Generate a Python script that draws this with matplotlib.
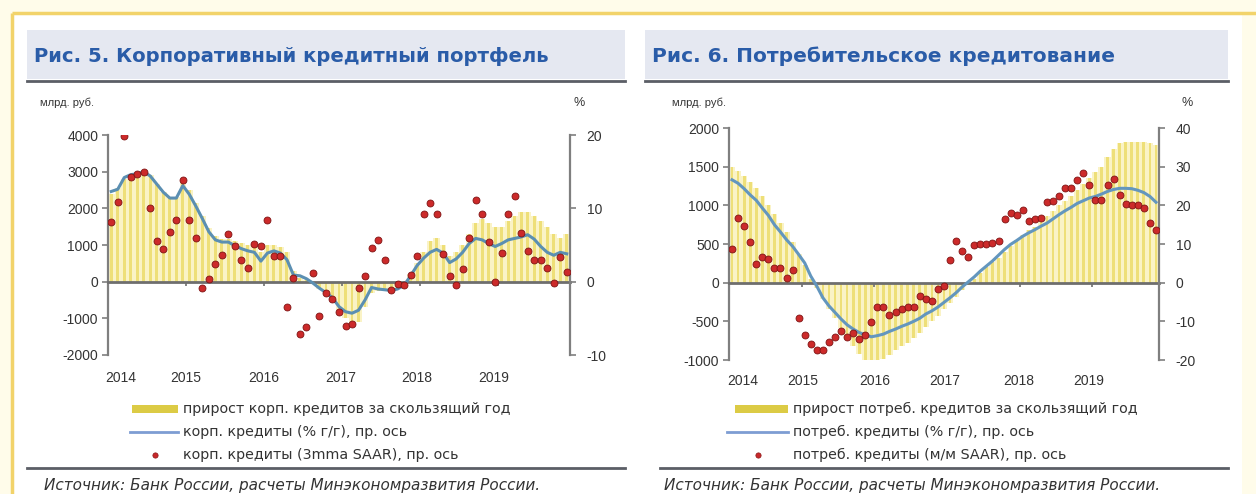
import matplotlib
matplotlib.use("Agg")
import matplotlib.pyplot as plt
import matplotlib.transforms as mtransforms
from matplotlib.patches import Rectangle
import numpy as np

plt.rcParams['font.family'] = ['Liberation Sans', 'DejaVu Sans']
WIDE = ['DejaVu Sans', 'Liberation Sans']

# ---------------- data (monthly, Jan 2014 - Nov 2019) ----------------
years = ['2014', '2015', '2016', '2017', '2018', '2019']

# Fig. 5: corporate loans
corp_growth_bn = [2400, 2550, 2800, 2900, 2950, 3000, 2900, 2650, 2450, 2300,
                  2300, 2800, 2500, 2150, 1800, 1450, 1250, 1150, 1150, 1100,
                  1050, 1000, 950, 800, 1000, 1000, 950, 800, 300, 100,
                  50, -50, -200, -350, -500, -800, -1000, -1150, -1100, -700,
                  -300, -250, -250, -250, -200, -100, 200, 500, 800, 1100,
                  1200, 1000, 700, 800, 1000, 1300, 1600, 1700, 1600, 1500,
                  1500, 1650, 1800, 1900, 1900, 1800, 1650, 1500, 1300, 1200, 1300]
corp_yoy = [12.3, 12.6, 14.2, 14.6, 14.7, 15.0, 14.4, 13.3, 12.2, 11.4,
            11.4, 13.1, 11.9, 10.3, 8.6, 6.8, 5.7, 5.4, 5.4, 4.9,
            4.5, 4.2, 4.0, 2.8, 3.9, 4.2, 3.9, 3.0, 0.9, 0.8,
            0.4, -0.2, -0.9, -1.5, -2.2, -3.4, -4.1, -4.3, -3.9, -2.5,
            -0.8, -1.0, -1.1, -1.2, -1.0, -0.5, 0.8, 2.2, 3.2, 4.0,
            4.4, 3.9, 2.6, 3.1, 4.0, 5.2, 5.9, 5.7, 5.2, 4.8,
            5.2, 5.7, 5.9, 6.1, 6.4, 5.8, 4.8, 4.0, 3.6, 4.0, 3.8]
corp_saar = [8.2, 10.8, 19.9, 14.3, 14.7, 15.0, 10.0, 5.6, 4.5, 6.8,
             8.4, 13.8, 8.4, 6.0, -0.8, 0.4, 2.4, 3.7, 6.5, 4.8,
             2.9, 1.8, 5.2, 4.9, 8.4, 3.5, 3.5, -3.4, 0.5, -7.1,
             -6.2, 1.25, -4.7, -1.6, -2.4, -4.1, -6.0, -5.8, -0.9, 0.8,
             4.6, 5.7, 2.9, -1.2, -0.3, -0.5, 0.9, 3.5, 9.2, 10.7,
             9.2, 3.8, 0.8, -0.4, 1.7, 5.9, 11.2, 9.2, 5.4, -0.1,
             3.9, 9.2, 11.7, 6.6, 4.2, 2.9, 2.9, 1.9, -0.2, 3.3, 1.3]

# Fig. 6: consumer loans
cons_growth_bn = [1500, 1450, 1375, 1300, 1225, 1115, 1000, 890, 775, 650,
                  525, 375, 225, 50, -75, -215, -340, -460, -590, -710,
                  -825, -925, -1000, -1030, -1020, -985, -940, -875, -825, -775,
                  -710, -650, -575, -500, -430, -340, -260, -180, -100, -30,
                  45, 125, 200, 265, 320, 400, 480, 550, 615, 675,
                  725, 790, 860, 925, 1000, 1050, 1125, 1200, 1275, 1350,
                  1425, 1500, 1625, 1725, 1800, 1815, 1820, 1820, 1820, 1800, 1780]
cons_yoy = [26.6, 25.7, 24.3, 22.7, 21.3, 19.3, 17.4, 15.0, 13.1, 11.1,
            9.4, 7.3, 5.1, 1.7, -0.9, -3.9, -6.0, -7.7, -9.4, -10.9,
            -12.0, -12.9, -13.5, -14.0, -13.7, -13.3, -12.6, -12.0, -11.3, -10.7,
            -10.0, -9.2, -8.1, -7.3, -6.3, -5.1, -3.9, -2.6, -1.1, 0.2,
            1.5, 3.0, 4.3, 5.6, 7.1, 8.6, 9.9, 10.9, 12.0, 12.9,
            13.7, 14.6, 15.4, 16.5, 17.6, 18.6, 19.5, 20.5, 21.2, 21.9,
            22.3, 22.9, 23.6, 24.1, 24.4, 24.4, 24.3, 23.9, 23.3, 22.3, 20.8]
cons_saar = [8.6, 16.7, 14.6, 10.5, 4.9, 6.6, 6.0, 3.9, 3.9, 1.1,
             3.3, -9.2, -13.5, -15.9, -17.4, -17.4, -15.4, -14.1, -12.6, -14.1,
             -12.9, -14.6, -13.5, -10.3, -6.3, -6.4, -8.3, -7.7, -6.9, -6.4,
             -6.3, -3.4, -4.3, -4.7, -1.7, -0.9, 5.8, 10.9, 8.1, 6.6,
             9.7, 10.0, 10.0, 10.2, 10.7, 16.5, 18.0, 17.6, 18.9, 15.9,
             16.5, 16.7, 20.8, 21.2, 22.3, 24.6, 24.4, 26.6, 28.3, 25.3,
             21.4, 21.4, 25.3, 26.8, 22.7, 20.3, 20.1, 20.1, 19.3, 15.4, 13.7]

# ---------------- figure in pixel units ----------------
W, H = 1256, 494
fig = plt.figure(figsize=(W / 100, H / 100), dpi=100)
fig.patch.set_facecolor('#FFFCEA')

bg = fig.add_axes([0, 0, 1, 1], zorder=0)
bg.set_xlim(0, W)
bg.set_ylim(H, 0)
bg.axis('off')

FRAME = '#F2D36A'
bg.add_patch(Rectangle((12, 13), 1230, H, fc='white', ec='none'))
bg.plot([12, W], [13, 13], color=FRAME, lw=2.5, solid_capstyle='butt')
bg.plot([12, 12], [13, H], color=FRAME, lw=2.5, solid_capstyle='butt')

TITLE_BG = '#E5E8F1'
TITLE_FG = '#2A5CA8'
RULE = '#5B5E66'
TXT = '#333333'
SOURCE = 'Источник: Банк России, расчеты Минэкономразвития России.'


def px_rect(x0, y0, x1, y1):
    return [x0 / W, 1 - y1 / H, (x1 - x0) / W, (y1 - y0) / H]


def panel_frame(x0, x1, title, title_size, rule_x0, source_x):
    bg.add_patch(Rectangle((x0, 30), x1 - x0, 49, fc=TITLE_BG, ec='none'))
    bg.plot([x0, x1], [81, 81], color=RULE, lw=2)
    bg.text(x0 + 7, 56, title, fontsize=title_size, fontweight='bold',
            family=WIDE, color=TITLE_FG, va='center', ha='left')
    bg.plot([rule_x0, x1], [468, 468], color=RULE, lw=2)
    bg.text(source_x, 485, SOURCE, fontsize=11, style='italic', family=WIDE,
            color=TXT, va='center')


def legend(xp, x_line0, xt, labels):
    bg.add_patch(Rectangle((xp, 405), xt - 5 - xp, 8, fc='#DCCB45', ec='none'))
    bg.plot([x_line0, xt - 5], [432, 432], color='#7D9DD3', lw=2)
    bg.plot([(x_line0 + xt) / 2 - 2], [455], 'o', ms=3.8,
            mfc='#C8282A', mec='#8A1818', mew=0.5)
    for y, s in zip([409, 432, 455], labels):
        bg.text(xt, y, s, fontsize=10.3, family=WIDE, color=TXT,
                va='center', ha='left')


def chart(rect, bars, yoy, saar, ylim_l, yt_l, ylim_r, yt_r,
          year_pos, year_y, line_color):
    ax = fig.add_axes(rect, zorder=1)
    ax.patch.set_visible(False)
    x = np.arange(len(bars))
    ax.bar(x, bars, width=1.0, color='#FAF3C6', lw=0, zorder=1)
    ax.bar(x, bars, width=0.45, color='#EEDF78', lw=0, zorder=2)
    ax.set_xlim(-0.5, len(bars) - 0.5)
    ax.set_ylim(*ylim_l)
    ax.set_yticks(yt_l)
    ax.set_yticklabels([f'{v:.0f}' for v in yt_l])
    ax.set_xticks([11.5 + 12 * k for k in range(5)])
    ax.set_xticklabels([])
    for s in ('top', 'right'):
        ax.spines[s].set_visible(False)
    ax.spines['left'].set_color('#7F7F7F')
    ax.spines['left'].set_linewidth(1.6)
    ax.spines['bottom'].set_position(('data', 0))
    ax.spines['bottom'].set_color('#6E6E6E')
    ax.spines['bottom'].set_linewidth(2.0)
    ax.spines['bottom'].set_zorder(3)
    ax.tick_params(axis='y', direction='out', length=4, width=1.2,
                   color='#7F7F7F', labelsize=10, labelcolor=TXT, pad=3)
    ax.tick_params(axis='x', direction='out', length=3, width=1.2,
                   color='#6E6E6E')

    ax2 = ax.twinx()
    ax2.plot(x, yoy, color=line_color, lw=2.2, zorder=3)
    ax2.plot(x, saar, 'o', ms=5.0, mfc='#CC2A2A', mec='#7E1414',
             mew=0.6, zorder=4, ls='none')
    ax2.set_ylim(*ylim_r)
    ax2.set_yticks(yt_r)
    ax2.set_yticklabels([f'{v:.0f}' for v in yt_r])
    for s in ('top', 'left', 'bottom'):
        ax2.spines[s].set_visible(False)
    ax2.spines['right'].set_color('#7F7F7F')
    ax2.spines['right'].set_linewidth(1.6)
    ax2.tick_params(axis='y', direction='out', length=4, width=1.2,
                    color='#7F7F7F', labelsize=10, labelcolor=TXT, pad=8)

    tr = mtransforms.blended_transform_factory(ax.transData, ax.transAxes)
    for xp, lab in zip(year_pos, years):
        ax.text(xp, year_y, lab, transform=tr, ha='center', va='center',
                fontsize=10, color=TXT)
    return ax, ax2


# Fig. 5
panel_frame(27, 625, 'Рис. 5. Корпоративный кредитный портфель', 14.1, 27, 44)
bg.text(40, 103, 'млрд. руб.', fontsize=8, color=TXT, va='center')
bg.text(574, 103, '%', fontsize=9, color=TXT, va='center')
chart(px_rect(108, 135, 570, 355), corp_growth_bn, corp_yoy, corp_saar,
      (-2000, 4000), [-2000, -1000, 0, 1000, 2000, 3000, 4000],
      (-10, 20), [-10, 0, 10, 20],
      [1.4, 11.4, 23.4, 35.2, 47.0, 58.8], -0.105, '#5B8FB2')
legend(132, 130, 183, ['прирост корп. кредитов за скользящий год',
                       'корп. кредиты (% г/г), пр. ось',
                       'корп. кредиты (3mma SAAR), пр. ось'])

# Fig. 6
panel_frame(645, 1228, 'Рис. 6. Потребительское кредитование', 14.5, 660, 664)
bg.text(672, 103, 'млрд. руб.', fontsize=8, color=TXT, va='center')
bg.text(1182, 103, '%', fontsize=9, color=TXT, va='center')
chart(px_rect(729, 128, 1159, 360), cons_growth_bn, cons_yoy, cons_saar,
      (-1000, 2000), [-1000, -500, 0, 500, 1000, 1500, 2000],
      (-20, 40), [-20, -10, 0, 10, 20, 30, 40],
      [1.7, 11.6, 23.5, 35.2, 47.3, 58.9], -0.09, '#6396BE')
legend(735, 727, 793, ['прирост потреб. кредитов за скользящий год',
                       'потреб. кредиты (% г/г), пр. ось',
                       'потреб. кредиты (м/м SAAR), пр. ось'])

fig.savefig('out.png', dpi=100, facecolor=fig.get_facecolor())
